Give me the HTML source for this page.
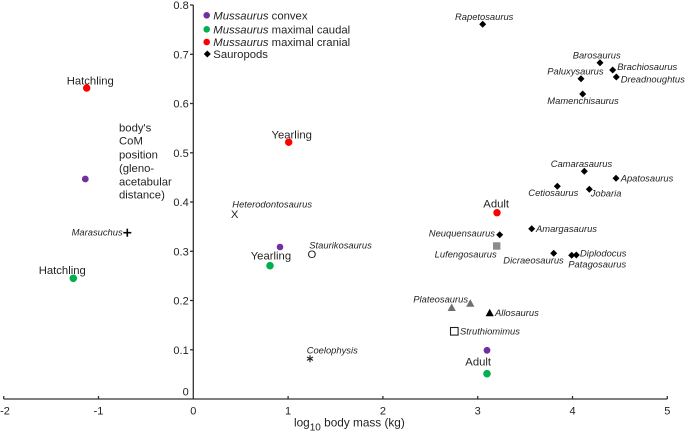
<!DOCTYPE html>
<html><head><meta charset="utf-8"><style>
html,body{margin:0;padding:0;background:#fff;}
svg{display:block;}
text{font-family:"Liberation Sans",Arial,sans-serif;fill:#231f20;}
.it{font-style:italic;font-size:9.4px;}
.lb{font-size:11.3px;}
.tk{font-size:11px;}
</style></head><body>
<svg width="685" height="434" viewBox="0 0 685 434" xmlns="http://www.w3.org/2000/svg">
<rect width="685" height="434" fill="#fff"/>
<!-- axes -->
<g stroke="#333" stroke-width="1.3" fill="none">
<line x1="193.3" y1="5" x2="193.3" y2="399"/>
<line x1="3.7" y1="399" x2="667.3" y2="399"/>
<line x1="190" y1="5" x2="193.3" y2="5"/>
<line x1="190" y1="54.3" x2="193.3" y2="54.3"/>
<line x1="190" y1="103.5" x2="193.3" y2="103.5"/>
<line x1="190" y1="152.8" x2="193.3" y2="152.8"/>
<line x1="190" y1="202" x2="193.3" y2="202"/>
<line x1="190" y1="251.3" x2="193.3" y2="251.3"/>
<line x1="190" y1="300.5" x2="193.3" y2="300.5"/>
<line x1="190" y1="349.8" x2="193.3" y2="349.8"/>
<line x1="3.7" y1="396" x2="3.7" y2="399"/>
<line x1="98.5" y1="396" x2="98.5" y2="399"/>
<line x1="288.1" y1="396" x2="288.1" y2="399"/>
<line x1="382.9" y1="396" x2="382.9" y2="399"/>
<line x1="477.7" y1="396" x2="477.7" y2="399"/>
<line x1="572.5" y1="396" x2="572.5" y2="399"/>
<line x1="667.3" y1="396" x2="667.3" y2="399"/>
</g>
<!-- y tick labels -->
<g class="tk" text-anchor="end">
<text x="188.7" y="9">0.8</text>
<text x="188.7" y="58.3">0.7</text>
<text x="188.7" y="107.5">0.6</text>
<text x="188.7" y="156.8">0.5</text>
<text x="188.7" y="206">0.4</text>
<text x="188.7" y="255.3">0.3</text>
<text x="188.7" y="304.5">0.2</text>
<text x="188.7" y="353.8">0.1</text>
<text x="188.7" y="395.7">0</text>
</g>
<!-- x tick labels -->
<g class="tk" text-anchor="middle">
<text x="5" y="414.7">-2</text>
<text x="98.5" y="414.7">-1</text>
<text x="193.3" y="414.7">0</text>
<text x="288.1" y="414.7">1</text>
<text x="382.9" y="414.7">2</text>
<text x="477.7" y="414.7">3</text>
<text x="572.5" y="414.7">4</text>
<text x="667.3" y="414.7">5</text>
</g>
<text x="294" y="426.7" style="font-size:11.8px">log<tspan dy="4" style="font-size:10px">10</tspan><tspan dy="-4"> body mass (kg)</tspan></text>

<!-- y axis description -->
<g class="lb">
<text x="119" y="131.3">body's</text>
<text x="119" y="144.7">CoM</text>
<text x="119" y="158.3">position</text>
<text x="119" y="172">(gleno-</text>
<text x="119" y="185.7">acetabular</text>
<text x="119" y="198.3">distance)</text>
</g>

<!-- legend -->
<circle cx="206.7" cy="15.3" r="3.3" fill="#7030a0"/>
<circle cx="206.7" cy="29.3" r="3.3" fill="#00b050"/>
<circle cx="206.7" cy="42" r="3.3" fill="#ff0000"/>
<polygon points="207.3,50.5 210.8,54 207.3,57.5 203.8,54" fill="#000"/>
<g class="lb">
<text x="213.3" y="19.3"><tspan font-style="italic">Mussaurus</tspan> convex</text>
<text x="213.3" y="33.3"><tspan font-style="italic">Mussaurus</tspan> maximal caudal</text>
<text x="213.3" y="46"><tspan font-style="italic">Mussaurus</tspan> maximal cranial</text>
<text x="213.3" y="58">Sauropods</text>
</g>

<!-- Mussaurus points -->
<circle cx="86.7" cy="88" r="3.7" fill="#ff0000"/>
<circle cx="85.3" cy="179" r="3.4" fill="#7030a0"/>
<circle cx="288.7" cy="142.3" r="3.7" fill="#ff0000"/>
<circle cx="73.3" cy="278.3" r="3.8" fill="#00b050"/>
<circle cx="280" cy="247" r="3.3" fill="#7030a0"/>
<circle cx="270" cy="265.7" r="3.8" fill="#00b050"/>
<circle cx="497" cy="212.7" r="3.7" fill="#ff0000"/>
<circle cx="487" cy="350.3" r="3.4" fill="#7030a0"/>
<circle cx="487" cy="373.7" r="3.8" fill="#00b050"/>
<g class="lb">
<text x="66.7" y="84.3">Hatchling</text>
<text x="291.7" y="138.3" text-anchor="middle">Yearling</text>
<text x="38.7" y="274">Hatchling</text>
<text x="250.7" y="259.7">Yearling</text>
<text x="483.3" y="207.3">Adult</text>
<text x="465.3" y="365.3">Adult</text>
</g>

<!-- sauropod diamonds -->
<g fill="#000">
<polygon points="482.7,20.8 486.2,24.3 482.7,27.8 479.2,24.3"/>
<polygon points="600,59.2 603.5,62.7 600,66.2 596.5,62.7"/>
<polygon points="612.7,66.5 616.2,70 612.7,73.5 609.2,70"/>
<polygon points="616.3,73.5 619.8,77 616.3,80.5 612.8,77"/>
<polygon points="581,75.2 584.5,78.7 581,82.2 577.5,78.7"/>
<polygon points="582.7,90.5 586.2,94 582.7,97.5 579.2,94"/>
<polygon points="584.3,167.8 587.8,171.3 584.3,174.8 580.8,171.3"/>
<polygon points="616,174.8 619.5,178.3 616,181.8 612.5,178.3"/>
<polygon points="557.3,182.8 560.8,186.3 557.3,189.8 553.8,186.3"/>
<polygon points="589.3,185.8 592.8,189.3 589.3,192.8 585.8,189.3"/>
<polygon points="499.7,231.2 503.2,234.7 499.7,238.2 496.2,234.7"/>
<polygon points="531.7,225.2 535.2,228.7 531.7,232.2 528.2,228.7"/>
<polygon points="553.7,249.8 557.2,253.3 553.7,256.8 550.2,253.3"/>
<polygon points="571.7,251.8 575.2,255.3 571.7,258.8 568.2,255.3"/>
<polygon points="576.3,251.5 579.8,255 576.3,258.5 572.8,255"/>
</g>
<g class="it">
<text x="455" y="20">Rapetosaurus</text>
<text x="572.7" y="58.3">Barosaurus</text>
<text x="617.3" y="70">Brachiosaurus</text>
<text x="620.7" y="82.6">Dreadnoughtus</text>
<text x="547.3" y="74.3">Paluxysaurus</text>
<text x="547.3" y="104">Mamenchisaurus</text>
<text x="550.7" y="167">Camarasaurus</text>
<text x="620.7" y="181.6">Apatosaurus</text>
<text x="528.3" y="196">Cetiosaurus</text>
<text x="590.7" y="196.3">Jobaria</text>
<text x="495" y="236.3" text-anchor="end">Neuquensaurus</text>
<text x="536" y="232">Amargasaurus</text>
<text x="496.7" y="257.3" text-anchor="end">Lufengosaurus</text>
<text x="503.3" y="263.6">Dicraeosaurus</text>
<text x="580" y="256.6">Diplodocus</text>
<text x="568.3" y="267.6">Patagosaurus</text>
<text x="413.3" y="302.6">Plateosaurus</text>
<text x="495" y="316">Allosaurus</text>
<text x="460" y="334.6">Struthiomimus</text>
<text x="232.3" y="207.3">Heterodontosaurus</text>
<text x="122.7" y="235.6" text-anchor="end">Marasuchus</text>
<text x="309.3" y="248.3">Staurikosaurus</text>
<text x="306.7" y="353.3">Coelophysis</text>
</g>

<!-- other markers -->
<rect x="493" y="242.3" width="7.4" height="7.4" fill="#8c8c8c"/>
<polygon points="451.7,303.5 455.8,311 447.6,311" fill="#707070"/>
<polygon points="470.3,299.3 474.4,306.8 466.2,306.8" fill="#707070"/>
<polygon points="489.7,308.7 493.8,316.2 485.6,316.2" fill="#000"/>
<rect x="450.5" y="327.5" width="7.6" height="7.6" fill="none" stroke="#231f20" stroke-width="1.1"/>
<text x="234.7" y="218" class="lb" text-anchor="middle">X</text>
<text x="311.9" y="258" class="lb" text-anchor="middle">O</text>
<g stroke="#231f20" stroke-width="1.1">
<line x1="310" y1="355.2" x2="310" y2="362.2"/>
<line x1="307" y1="357" x2="313" y2="360.4"/>
<line x1="307" y1="360.4" x2="313" y2="357"/>
</g>
<g stroke="#000" stroke-width="1.6">
<line x1="123.3" y1="232.7" x2="131.3" y2="232.7"/>
<line x1="127.3" y1="228.7" x2="127.3" y2="236.7"/>
</g>
</svg>
</body></html>
